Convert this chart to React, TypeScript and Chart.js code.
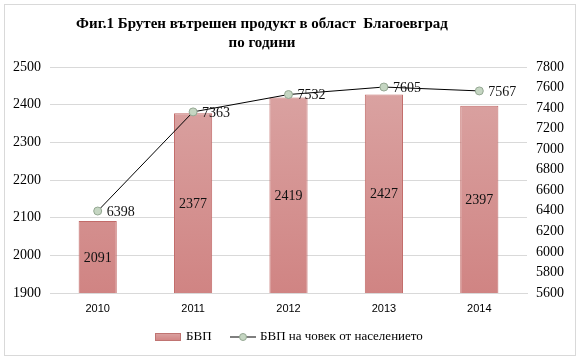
import React, { useEffect, useRef } from "react";
import { Chart, registerables } from "chart.js";

Chart.register(...registerables);

const categories = ["2010", "2011", "2012", "2013", "2014"];
const gdpValues = [2091, 2377, 2419, 2427, 2397];
const perCapitaValues = [6398, 7363, 7532, 7605, 7567];
const titleLines = ["Фиг.1 Брутен вътрешен продукт в област  Благоевград", "по години"];
const seriesNames = ["БВП", "БВП на човек от населението"];

const SERIF = "'Liberation Serif', 'Times New Roman', serif";
const SANS = "'Liberation Sans', Arial, sans-serif";

const framePlugin = {
  id: "frame",
  beforeDraw(chart: any) {
    const { ctx, width, height } = chart;
    ctx.save();
    ctx.fillStyle = "#ffffff";
    ctx.fillRect(0, 0, width, height);
    ctx.strokeStyle = "#d9d9d9";
    ctx.lineWidth = 1;
    ctx.strokeRect(4.5, 4.5, 571, 351);
    ctx.restore();
  },
};

const labelsPlugin = {
  id: "valueLabels",
  afterDatasetsDraw(chart: any) {
    const { ctx } = chart;
    const yScale = chart.scales.y;
    ctx.save();
    ctx.font = `14px ${SERIF}`;
    ctx.fillStyle = "#111111";
    const barMeta = chart.getDatasetMeta(0);
    barMeta.data.forEach((el: any, i: number) => {
      const top = yScale.getPixelForValue(gdpValues[i]);
      const base = yScale.getPixelForValue(yScale.min);
      ctx.textAlign = "center";
      ctx.textBaseline = "middle";
      ctx.fillText(String(gdpValues[i]), el.x, (top + base) / 2 + 1);
    });
    const lineMeta = chart.getDatasetMeta(1);
    lineMeta.data.forEach((el: any, i: number) => {
      ctx.textAlign = "left";
      ctx.textBaseline = "middle";
      ctx.fillText(String(perCapitaValues[i]), el.x + 9, el.y + 1);
    });
    ctx.restore();
  },
  afterDraw(chart: any) {
    const { ctx } = chart;
    ctx.save();
    // title
    ctx.fillStyle = "#000";
    ctx.textAlign = "center";
    ctx.textBaseline = "middle";
    ctx.font = `bold 15px ${SERIF}`;
    ctx.fillText(titleLines[0], 262, 24);
    ctx.fillText(titleLines[1], 262, 43);
    // legend
    const y = 337;
    const g = ctx.createLinearGradient(0, y - 4, 0, y + 4);
    g.addColorStop(0, "#dba3a2");
    g.addColorStop(1, "#d18382");
    ctx.fillStyle = g;
    ctx.fillRect(155, y - 4, 26, 8);
    ctx.strokeStyle = "#c07472";
    ctx.lineWidth = 1;
    ctx.strokeRect(155.5, y - 3.5, 25, 7);
    ctx.font = `13px ${SERIF}`;
    ctx.fillStyle = "#000";
    ctx.textAlign = "left";
    ctx.textBaseline = "middle";
    ctx.fillText(seriesNames[0], 186, y);
    ctx.strokeStyle = "#555555";
    ctx.lineWidth = 1.5;
    ctx.beginPath();
    ctx.moveTo(230, y);
    ctx.lineTo(256, y);
    ctx.stroke();
    ctx.beginPath();
    ctx.arc(243, y, 3.5, 0, Math.PI * 2);
    ctx.fillStyle = "#c5d6c2";
    ctx.fill();
    ctx.strokeStyle = "#95a893";
    ctx.lineWidth = 1;
    ctx.stroke();
    ctx.fillStyle = "#000";
    ctx.fillText(seriesNames[1], 260, y);
    ctx.restore();
  },
};

export default function App() {
  const ref = useRef<HTMLCanvasElement | null>(null);
  useEffect(() => {
    if (!ref.current) return;
    const chart = new Chart(ref.current, {
      type: "bar",
      data: {
        labels: categories,
        datasets: [
          {
            type: "bar",
            label: seriesNames[0],
            data: gdpValues,
            yAxisID: "y",
            order: 2,
            backgroundColor: (c: any) => {
              const area = c.chart.chartArea;
              if (!area) return "#d69090";
              const g = c.chart.ctx.createLinearGradient(0, area.top, 0, area.bottom);
              g.addColorStop(0, "#dba6a5");
              g.addColorStop(1, "#d08483");
              return g;
            },
            borderColor: "#c26b69",
            borderWidth: 1,
            barPercentage: 0.8,
            categoryPercentage: 0.5,
          },
          {
            type: "line",
            label: seriesNames[1],
            data: perCapitaValues,
            yAxisID: "y1",
            order: 1,
            borderColor: "#000000",
            borderWidth: 1,
            pointRadius: 4,
            pointBackgroundColor: "#c5d6c2",
            pointBorderColor: "#95a893",
            pointBorderWidth: 1,
            tension: 0,
          },
        ],
      },
      options: {
        responsive: false,
        animation: false,
        devicePixelRatio: 1,
        layout: { padding: { top: 67, bottom: 39, left: 0, right: 0 } },
        plugins: {
          legend: { display: false },
          tooltip: { enabled: false },
          title: { display: false },
        },
        scales: {
          x: {
            grid: { display: false, drawTicks: false },
            border: { display: true, color: "#d9d9d9" },
            ticks: { color: "#000", font: { family: SANS, size: 11 }, padding: 9 },
            afterFit: (s: any) => {
              s.height = 30;
            },
          },
          y: {
            position: "left",
            min: 1900,
            max: 2500,
            grid: { color: "#d9d9d9", drawTicks: false },
            border: { display: false },
            ticks: {
              stepSize: 100,
              color: "#000",
              font: { family: SERIF, size: 14 },
              padding: 9,
              callback: (v: any) => String(v),
            },
            afterFit: (s: any) => {
              s.width = 50;
            },
          },
          y1: {
            position: "right",
            min: 5600,
            max: 7800,
            grid: { display: false, drawTicks: false },
            border: { display: false },
            ticks: {
              stepSize: 200,
              color: "#000",
              font: { family: SERIF, size: 14 },
              padding: 9,
              callback: (v: any) => String(v),
            },
            afterFit: (s: any) => {
              s.width = 52;
            },
          },
        },
      } as any,
      plugins: [framePlugin, labelsPlugin],
    });
    return () => chart.destroy();
  }, []);
  return (
    <div style={{ position: "absolute", left: 0, top: 0, width: 579, height: 362 }}>
      <canvas ref={ref} width={579} height={362} style={{ display: "block" }} />
    </div>
  );
}
